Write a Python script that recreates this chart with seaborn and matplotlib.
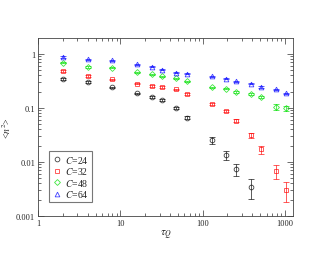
import numpy as np
import pandas as pd
import seaborn as sns
import matplotlib
matplotlib.use('Agg')
import matplotlib.pyplot as plt
from matplotlib.lines import Line2D
from matplotlib.ticker import LogLocator, NullFormatter, FixedLocator, FixedFormatter

# --- DATA ---
tau_q = [2, 4, 8, 16, 24, 32, 48, 64, 128, 192, 256, 384, 512, 768, 1024]

n2_c24 = [0.344, 0.30, 0.238, 0.184, 0.16, 0.14, 0.10, 0.066, 0.025, 0.0133, 0.0074, 0.0035]
err_c24 = [0.012, 0.010, 0.008, 0.007, 0.006, 0.006, 0.005, 0.004, 0.0035, 0.0025, 0.0018, 0.0014]

n2_c32 = [0.47, 0.385, 0.334, 0.28, 0.25, 0.24, 0.218, 0.179, 0.12, 0.088, 0.058, 0.031, 0.017, 0.0068, 0.003]
err_c32 = [0.02, 0.015, 0.012, 0.01, 0.009, 0.008, 0.008, 0.007, 0.005, 0.005, 0.004, 0.0035, 0.003, 0.0019, 0.0012]

n2_c48 = [0.68, 0.566, 0.55, 0.45, 0.42, 0.38, 0.35, 0.307, 0.24, 0.225, 0.195, 0.182, 0.158, 0.105, 0.098]
err_c48 = [0.02, 0.015, 0.015, 0.012, 0.01, 0.01, 0.009, 0.008, 0.007, 0.007, 0.006, 0.006, 0.006, 0.012, 0.012]

n2_c64 = [0.87, 0.785, 0.75, 0.634, 0.58, 0.51, 0.445, 0.43, 0.38, 0.344, 0.307, 0.28, 0.245, 0.218, 0.184]
err_c64 = [0.03, 0.025, 0.022, 0.02, 0.017, 0.015, 0.013, 0.012, 0.011, 0.01, 0.009, 0.008, 0.008, 0.007, 0.007]

series_labels = ['24', '32', '48', '64']
series_values = [n2_c24, n2_c32, n2_c48, n2_c64]
series_errors = [err_c24, err_c32, err_c48, err_c64]
colors = ['black', '#ff0000', '#00e000', '#0000ff']
markers = ['o', 's', 'D', '^']

frames = []
for lab, vals, errs in zip(series_labels, series_values, series_errors):
    frames.append(pd.DataFrame({'tau': tau_q[:len(vals)], 'n2': vals, 'err': errs, 'C': lab}))
df = pd.concat(frames, ignore_index=True)

# --- PLOT ---
sns.set_theme(style="ticks")
plt.rcParams['font.family'] = ['Liberation Serif', 'DejaVu Serif']
plt.rcParams['mathtext.fontset'] = 'stix'

fig = plt.figure(figsize=(3.3, 2.55), dpi=100)
ax = fig.add_axes([0.115, 0.149, 0.773, 0.698])

handles = []
for lab, col, mk in zip(series_labels, colors, markers):
    sub = df[df['C'] == lab]
    ms = 3.4 if mk != 'D' else 3.0
    ax.errorbar(sub['tau'], sub['n2'], yerr=sub['err'], fmt=mk, color=col,
                mfc='none', mec=col, ms=ms, mew=0.6, elinewidth=0.6,
                capsize=2, capthick=0.6, alpha=0.75)
    handles.append(Line2D([], [], ls='none', marker=mk, ms=ms, mfc='none',
                          mec=col, mew=0.6, alpha=0.75, label='$C$=' + lab))

ax.set_xscale('log')
ax.set_yscale('log')
ax.set_xlim(1, 1250)
ax.set_ylim(0.001, 1.95)

ax.xaxis.set_major_locator(FixedLocator([1, 10, 100, 1000]))
ax.xaxis.set_major_formatter(FixedFormatter(['1', '10', '100', '1000']))
ax.yaxis.set_major_locator(FixedLocator([0.001, 0.01, 0.1, 1]))
ax.yaxis.set_major_formatter(FixedFormatter(['0.001', '0.01', '0.1', '1']))
ax.xaxis.set_minor_locator(LogLocator(base=10, subs=np.arange(2, 10)))
ax.yaxis.set_minor_locator(LogLocator(base=10, subs=np.arange(2, 10)))
ax.xaxis.set_minor_formatter(NullFormatter())
ax.yaxis.set_minor_formatter(NullFormatter())

ax.tick_params(which='both', direction='in', top=True, right=True, color='#333333', width=0.5)
ax.tick_params(which='major', length=4, labelsize=6, pad=2)
ax.tick_params(which='minor', length=2)
for s in ax.spines.values():
    s.set_linewidth(0.6)
    s.set_color('#444444')

ax.set_xlabel(r'$\tau_Q$', fontsize=8, labelpad=1)
ax.set_ylabel(r'<$n^2$>', fontsize=7, labelpad=2)

leg = ax.legend(handles=handles, loc='lower left', bbox_to_anchor=(0.045, 0.08),
                fontsize=7, frameon=True, fancybox=False, edgecolor='#555555',
                handletextpad=0.4, borderpad=0.25, labelspacing=0.05,
                handlelength=1.0, borderaxespad=0)
leg.get_frame().set_linewidth(0.8)

fig.savefig('out.png', dpi=100)
